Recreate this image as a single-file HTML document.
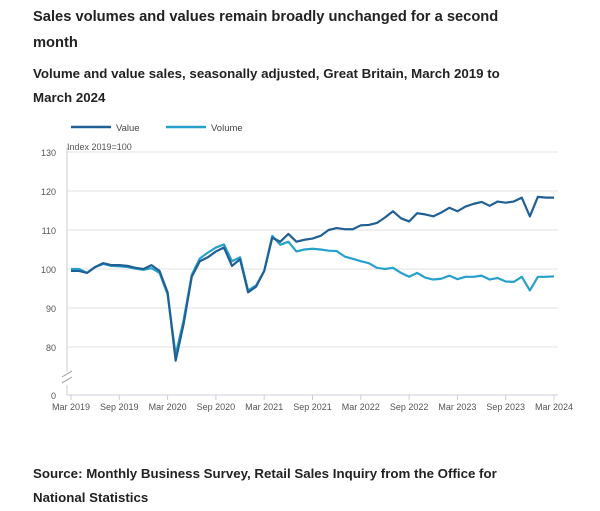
<!DOCTYPE html>
<html><head><meta charset="utf-8"><style>
body{margin:0;width:600px;height:511px;background:#fff;font-family:"Liberation Sans",sans-serif;color:#222;overflow:hidden}
.t{position:absolute;left:33px;font-weight:bold}
</style></head><body>
<div class="t" style="top:4px;font-size:14.7px;line-height:26px;width:500px">Sales volumes and values remain broadly unchanged for a second month</div>
<div class="t" style="top:62px;font-size:13.3px;line-height:24px;width:500px">Volume and value sales, seasonally adjusted, Great Britain, March 2019 to March 2024</div>
<svg width="600" height="511" style="position:absolute;left:0;top:0">
<g id="g"></g></svg>
<div class="t" style="top:462px;font-size:13.3px;line-height:24px;width:470px">Source: Monthly Business Survey, Retail Sales Inquiry from the Office for National Statistics</div>
<script>
const valueSeries=[99.5,99.5,99,100.5,101.5,101,101,100.8,100.3,100,
101,99.5,94,76.5,86,98,102,103,104.5,105.5,100.8,102.5,
94,95.5,99.5,108,107,109,107,107.5,107.8,108.5,110,110.5,
110.2,110.2,111.2,111.3,111.8,113.2,114.8,113,112.2,114.3,114,113.5,
114.5,115.7,114.8,116,116.7,117.2,116.2,117.3,117,117.3,118.3,113.5,
118.5,118.3,118.3];
const volumeSeries=[100,100,99,100.5,101.3,100.8,100.7,100.5,100.1,99.8,
100.2,99,93.5,78,87,98.5,102.7,104.2,105.5,106.3,102,103,
94.5,95.8,99.5,108.5,106.2,107,104.5,105,105.2,105,104.7,104.6,
103.2,102.6,102,101.5,100.3,100,100.3,99,98,99,97.8,97.3,
97.5,98.3,97.4,98,98,98.3,97.3,97.7,96.8,96.7,98,94.5,
98,98,98.1];
const yTicks=[80,90,100,110,120,130];
const xTickLabels=["Mar 2019","Sep 2019","Mar 2020","Sep 2020","Mar 2021","Sep 2021","Mar 2022","Sep 2022","Mar 2023","Sep 2023","Mar 2024"];
const NS="http://www.w3.org/2000/svg",g=document.getElementById('g');
const x=i=>71+i*(483/60), y=v=>269-(v-100)*3.9;
function el(t,a,txt){const e=document.createElementNS(NS,t);for(const k in a)e.setAttribute(k,a[k]);if(txt!=null)e.textContent=txt;g.appendChild(e);return e;}
yTicks.forEach(v=>{
const l=el('line',{x1:67,x2:558,y1:y(v),y2:y(v),stroke:'#e2e2e2'});


const t=el('text',{x:56,y:y(v)+4,'text-anchor':'end','font-size':9,fill:'#555'},v);


});
const z=el('text',{x:56,y:399,'text-anchor':'end','font-size':9,fill:'#555'},'0');


el('line',{x1:67,x2:67,y1:148,y2:372,stroke:'#ccc'});
el('line',{x1:67,x2:67,y1:385,y2:395,stroke:'#ccc'});
el('path',{d:'M62,377 L72,371 M62,383 L72,377',stroke:'#999',fill:'none'});
el('line',{x1:67,x2:558,y1:395,y2:395,stroke:'#ccd'});
const it=el('text',{x:67,y:150,'font-size':9,fill:'#555'},'Index 2019=100');


xTickLabels.forEach((s,k)=>{
const xi=x(k*6);
el('line',{x1:xi,x2:xi,y1:395,y2:400,stroke:'#ccd'});
const t=el('text',{x:xi,y:410,'text-anchor':'middle','font-size':9,fill:'#555'},s);


});
function line(data,c,name){
const p=el('polyline',{points:data.map((v,i)=>x(i)+','+y(v)).join(' '),fill:'none',stroke:c,'stroke-width':2.2,'stroke-linejoin':'round'});

}
line(volumeSeries,'#27a0cc','volume-line');
line(valueSeries,'#206095','value-line');
[['Value','#206095',71],['Volume','#27a0cc',166]].forEach(([n,c,lx])=>{
el('line',{x1:lx,x2:lx+40,y1:127,y2:127,stroke:c,'stroke-width':2.5});
const t=el('text',{x:lx+45,y:131,'font-size':9.5,fill:'#444'},n);


});
</script>
</body></html>
